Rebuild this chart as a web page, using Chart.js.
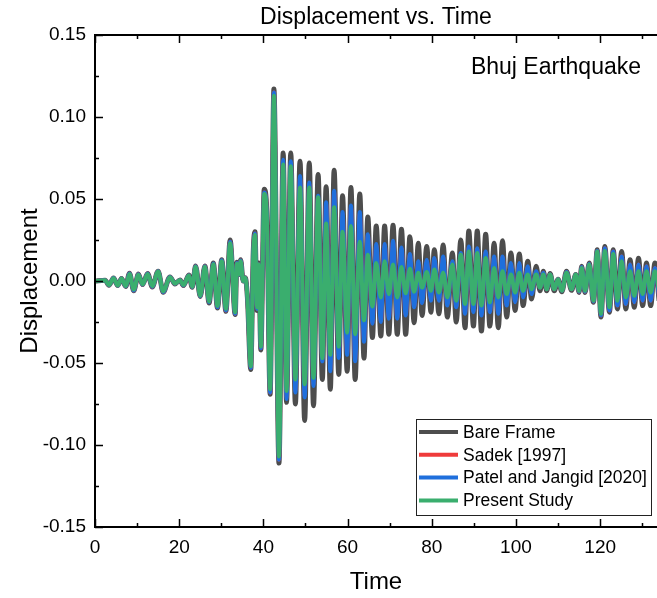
<!DOCTYPE html>
<html>
<head>
<meta charset="utf-8">
<script src="https://cdn.jsdelivr.net/npm/chart.js@4.4.0/dist/chart.umd.min.js"></script>
<style>
  html, body { margin: 0; padding: 0; background: #fff; }
  #wrap { width: 657px; height: 598px; }
</style>
</head>
<body>
<div id="wrap"><canvas id="dispChart" width="657" height="598"></canvas></div>
<script>
// Время экстремумов (с)
const time = [
  0, 2.4, 3.3, 4.4, 5.4, 6.3, 7.3, 8.2, 9.2, 10.3,
  11.3, 12.5, 13.6, 15.0, 16.2, 17.8, 19.0, 20.2, 21.0, 22.3,
  23.1, 23.9, 25.0, 26.1, 27.1, 28.1, 29.1, 30.1, 31.1, 32.1,
  33.3, 33.7, 34.2, 34.6, 35.2, 35.7, 36.2, 37.0, 37.6, 38.0,
  38.5, 38.9, 39.4, 40.2, 40.8, 41.6, 42.5, 43.7, 44.7, 45.5,
  46.5, 47.6, 48.7, 49.8, 50.9, 51.9, 53.0, 54.0, 54.9, 55.9,
  56.8, 57.9, 58.8, 59.9, 60.8, 61.8, 62.9, 63.9, 64.8, 65.9,
  66.8, 67.9, 68.8, 69.8, 70.8, 71.8, 72.8, 73.8, 74.8, 75.8,
  76.8, 77.7, 78.8, 79.8, 80.6, 81.7, 82.7, 83.7, 84.9, 85.8,
  86.9, 87.9, 88.8, 89.9, 90.8, 91.8, 92.8, 93.8, 94.8, 95.8,
  96.8, 97.8, 98.8, 99.8, 100.8, 101.7, 102.8, 103.7, 104.8, 105.7,
  106.5, 107.3, 108.1, 109.1, 110.0, 110.9, 112.0, 113.2, 114.2, 115.0,
  115.6, 116.4, 117.4, 118.4, 119.3, 120.2, 121.1, 122.2, 123.1, 124.1,
  125.1, 126.1, 127.1, 128.1, 129.1, 130.1, 131.0, 132.0, 133.0, 134.0
];

// Bare Frame
const bareFrame = [
  0, 0.0005, -0.0026, 0.0018, -0.0028, 0.0016, -0.0033, 0.0048, -0.006, 0.0042,
  -0.0022, 0.0046, -0.0036, 0.006, -0.0068, 0.0025, -0.0018, 0.0006, -0.0028, 0.0036,
  -0.0038, 0.0092, -0.0095, 0.0092, -0.0134, 0.011, -0.0165, 0.013, -0.0185, 0.025,
  -0.0205, 0.0115, 0.004, 0.013, 0.0, 0.002, -0.01, -0.054, 0.018, 0.030,
  -0.018, 0.011, -0.042, 0.056, 0.043, -0.069, 0.117, -0.111, 0.078, -0.074,
  0.078, -0.075, 0.073, -0.085, 0.072, -0.076, 0.065, -0.060, 0.0575, -0.066,
  0.0675, -0.057, 0.052, -0.055, 0.057, -0.060, 0.053, -0.047, 0.039, -0.0345,
  0.0335, -0.0335, 0.0335, -0.0325, 0.034, -0.0325, 0.0315, -0.0325, 0.027, -0.0255,
  0.023, -0.021, 0.021, -0.019, 0.019, -0.020, 0.022, -0.022, 0.017, -0.025,
  0.025, -0.0285, 0.0305, -0.0275, 0.0305, -0.0305, 0.0285, -0.0275, 0.023, -0.0285,
  0.0245, -0.022, 0.017, -0.018, 0.0165, -0.015, 0.012, -0.011, 0.009, -0.006,
  0.006, -0.006, 0.0045, -0.006, 0.001, -0.0065, 0.006, -0.0057, 0.004, -0.007,
  0.009, -0.007, 0.011, -0.013, 0.019, -0.022, 0.021, -0.019, 0.019, -0.017,
  0.018, -0.017, 0.013, -0.016, 0.0138, -0.015, 0.011, -0.015, 0.011, -0.012
];

// Sadek [1997]
const sadek = [
  0, 0.0005, -0.0026, 0.0018, -0.0028, 0.0016, -0.0032, 0.0046, -0.0058, 0.0041,
  -0.0021, 0.0045, -0.0035, 0.006, -0.0067, 0.0024, -0.0017, 0.0005, -0.0027, 0.0035,
  -0.0037, 0.009, -0.0093, 0.009, -0.013, 0.0105, -0.016, 0.0125, -0.018, 0.024,
  -0.020, 0.011, 0.004, 0.0125, 0.0, 0.002, -0.010, -0.053, 0.017, 0.029,
  -0.017, 0.010, -0.041, 0.054, 0.041, -0.068, 0.115, -0.109, 0.073, -0.071,
  0.072, -0.067, 0.063, -0.070, 0.059, -0.063, 0.051, -0.048, 0.047, -0.054,
  0.054, -0.046, 0.041, -0.044, 0.045, -0.048, 0.041, -0.036, 0.028, -0.0255,
  0.022, -0.0245, 0.022, -0.0225, 0.024, -0.0225, 0.020, -0.0205, 0.016, -0.0155,
  0.0115, -0.013, 0.0125, -0.0115, 0.0135, -0.0115, 0.0145, -0.0145, 0.0115, -0.0155,
  0.0165, -0.0195, 0.0205, -0.0185, 0.0195, -0.0205, 0.0175, -0.0185, 0.0145, -0.0195,
  0.0145, -0.0145, 0.0105, -0.0125, 0.0105, -0.0095, 0.0085, -0.0075, 0.0055, -0.004,
  0.005, -0.005, 0.004, -0.005, 0.001, -0.006, 0.0055, -0.005, 0.004, -0.0065,
  0.0085, -0.0065, 0.0105, -0.0125, 0.0185, -0.021, 0.020, -0.018, 0.018, -0.015,
  0.015, -0.014, 0.010, -0.013, 0.010, -0.012, 0.009, -0.012, 0.008, -0.010
];

// Patel and Jangid [2020]
const patelJangid = [
  0, 0.0005, -0.0026, 0.0018, -0.0028, 0.0016, -0.0032, 0.0046, -0.0058, 0.0041,
  -0.0021, 0.0045, -0.0035, 0.006, -0.0067, 0.0024, -0.0017, 0.0005, -0.0027, 0.0035,
  -0.0037, 0.009, -0.0093, 0.009, -0.013, 0.0106, -0.016, 0.0126, -0.018, 0.024,
  -0.020, 0.011, 0.004, 0.0125, 0.0, 0.002, -0.010, -0.053, 0.017, 0.029,
  -0.017, 0.010, -0.041, 0.054, 0.041, -0.068, 0.115, -0.109, 0.074, -0.072,
  0.073, -0.068, 0.064, -0.071, 0.060, -0.064, 0.052, -0.049, 0.048, -0.055,
  0.055, -0.047, 0.042, -0.045, 0.046, -0.049, 0.042, -0.037, 0.0285, -0.026,
  0.0225, -0.025, 0.0225, -0.023, 0.0245, -0.023, 0.0205, -0.021, 0.0165, -0.016,
  0.012, -0.0135, 0.013, -0.012, 0.014, -0.012, 0.015, -0.015, 0.012, -0.016,
  0.017, -0.020, 0.021, -0.019, 0.020, -0.021, 0.018, -0.019, 0.015, -0.020,
  0.015, -0.015, 0.011, -0.013, 0.011, -0.010, 0.009, -0.008, 0.006, -0.004,
  0.005, -0.005, 0.004, -0.005, 0.001, -0.006, 0.0055, -0.005, 0.004, -0.0065,
  0.0085, -0.0065, 0.0105, -0.0125, 0.0185, -0.021, 0.020, -0.018, 0.018, -0.015,
  0.015, -0.014, 0.010, -0.013, 0.010, -0.012, 0.009, -0.012, 0.008, -0.010
];

// Present Study
const presentStudy = [
  0, 0.0005, -0.0025, 0.0017, -0.0027, 0.0015, -0.003, 0.0042, -0.0052, 0.0038,
  -0.002, 0.0043, -0.0031, 0.0058, -0.0063, 0.0023, -0.0016, 0.0005, -0.0025, 0.0034,
  -0.0035, 0.0087, -0.009, 0.0087, -0.0125, 0.0102, -0.0152, 0.012, -0.017, 0.023,
  -0.019, 0.0105, 0.004, 0.012, 0.0, 0.002, -0.010, -0.052, 0.016, 0.028,
  -0.016, 0.010, -0.040, 0.053, 0.040, -0.066, 0.113, -0.107, 0.071, -0.067,
  0.070, -0.060, 0.057, -0.063, 0.057, -0.059, 0.051, -0.047, 0.035, -0.045,
  0.045, -0.040, 0.030, -0.0315, 0.0335, -0.0325, 0.024, -0.024, 0.016, -0.0155,
  0.011, -0.010, 0.012, -0.008, 0.010, -0.010, 0.0085, -0.0075, 0.0075, -0.0065,
  0.005, -0.004, 0.0055, -0.006, 0.007, -0.007, 0.005, -0.010, 0.010, -0.012,
  0.016, -0.014, 0.018, -0.014, 0.017, -0.015, 0.014, -0.013, 0.008, -0.010,
  0.006, -0.008, 0.004, -0.007, 0.005, -0.006, 0.004, -0.005, 0.004, -0.004,
  0.004, -0.005, 0.004, -0.005, 0.001, -0.006, 0.005, -0.005, 0.004, -0.006,
  0.008, -0.006, 0.010, -0.012, 0.018, -0.020, 0.0183, -0.016, 0.0165, -0.012,
  0.012, -0.010, 0.006, -0.009, 0.006, -0.008, 0.006, -0.007, 0.006, -0.006
];

const seriesNames = ['Bare Frame', 'Sadek [1997]', 'Patel and Jangid [2020]', 'Present Study'];
const seriesColors = ['#4d4d4d', '#ef3b3b', '#1f6fdc', '#3aae6e'];
const seriesWidths = [5, 4, 4, 4];
const xTicks = [0, 20, 40, 60, 80, 100, 120];
const yTicks = [-0.15, -0.10, -0.05, 0.00, 0.05, 0.10, 0.15];

const FONT = "'Liberation Sans', Arial, sans-serif";
const allSeries = [bareFrame, sadek, patelJangid, presentStudy];

// Рамка, внутренние засечки, заголовок, подпись и легенда
const decorPlugin = {
  id: 'decor',
  afterDraw(chart) {
    const ctx = chart.ctx;
    const area = chart.chartArea;
    const xs = chart.scales.x, ys = chart.scales.y;
    ctx.save();
    ctx.strokeStyle = '#000';
    ctx.lineWidth = 2;
    ctx.beginPath();
    ctx.moveTo(area.left, area.top); ctx.lineTo(area.right + 2, area.top);
    ctx.moveTo(area.left, area.top - 1); ctx.lineTo(area.left, area.bottom + 1);
    ctx.moveTo(area.left - 1, area.bottom); ctx.lineTo(area.right + 2, area.bottom);
    ctx.stroke();

    ctx.lineWidth = 1.5;
    ctx.beginPath();
    for (let v = 0; v <= xs.max; v += 10) {
      const px = Math.round(xs.getPixelForValue(v)) + 0.5;
      const len = v % 20 === 0 ? 8 : 4;
      ctx.moveTo(px, area.bottom); ctx.lineTo(px, area.bottom - len);
      ctx.moveTo(px, area.top); ctx.lineTo(px, area.top + len);
    }
    for (let i = -6; i <= 6; i++) {
      const v = i * 0.025;
      const py = Math.round(ys.getPixelForValue(v)) + 0.5;
      const len = i % 2 === 0 ? 8 : 4;
      ctx.moveTo(area.left, py); ctx.lineTo(area.left + len, py);
    }
    ctx.stroke();

    ctx.fillStyle = '#000';
    ctx.textBaseline = 'middle';
    ctx.font = '23px ' + FONT;
    ctx.textAlign = 'center';
    ctx.fillText('Displacement vs. Time', (area.left + area.right) / 2, 18);
    ctx.textAlign = 'right';
    ctx.fillText('Bhuj Earthquake', 641, 68);

    // Легенда
    const bx = 416, by = 419, bw = 235, bh = 96;
    ctx.fillStyle = '#fff';
    ctx.fillRect(bx, by, bw, bh);
    ctx.strokeStyle = '#222';
    ctx.lineWidth = 1;
    ctx.strokeRect(bx + 0.5, by + 0.5, bw, bh);
    ctx.font = '17.5px ' + FONT;
    ctx.textAlign = 'left';
    seriesNames.forEach((name, i) => {
      const y = by + 13 + i * 22.8;
      ctx.strokeStyle = seriesColors[i];
      ctx.lineWidth = 4;
      ctx.beginPath();
      ctx.moveTo(419, y); ctx.lineTo(458, y);
      ctx.stroke();
      ctx.fillStyle = '#000';
      ctx.fillText(name, 463, y + 1);
    });
    ctx.restore();
  }
};

const datasets = allSeries.map((vals, i) => ({
  label: seriesNames[i],
  data: time.map((t, k) => ({ x: t, y: vals[k] })),
  borderColor: seriesColors[i],
  backgroundColor: seriesColors[i],
  borderWidth: seriesWidths[i],
  pointRadius: 0,
  cubicInterpolationMode: 'monotone',
  fill: false,
  order: 4 - i
}));

new Chart(document.getElementById('dispChart'), {
  type: 'line',
  data: { datasets: datasets },
  options: {
    responsive: false,
    animation: false,
    devicePixelRatio: 1,
    layout: { padding: { top: 35, right: 0, bottom: 0, left: 0 } },
    plugins: {
      legend: { display: false },
      tooltip: { enabled: false }
    },
    scales: {
      x: {
        type: 'linear',
        min: 0,
        max: 133.5,
        grid: { display: false, drawTicks: false },
        border: { display: false },
        afterBuildTicks: s => { s.ticks = xTicks.map(v => ({ value: v })); },
        afterFit: s => { s.height = 71; },
        ticks: {
          autoSkip: false, maxRotation: 0, padding: 9, color: '#000',
          font: { family: FONT, size: 19 },
          callback: v => String(v)
        },
        title: {
          display: true, text: 'Time', color: '#000',
          font: { family: FONT, size: 24 },
          padding: { top: 0, bottom: 1 }
        }
      },
      y: {
        min: -0.15,
        max: 0.15,
        grid: { display: false, drawTicks: false },
        border: { display: false },
        afterBuildTicks: s => { s.ticks = yTicks.map(v => ({ value: v })); },
        afterFit: s => { s.width = 95; },
        ticks: {
          autoSkip: false, padding: 9, color: '#000',
          font: { family: FONT, size: 19 },
          callback: v => v.toFixed(2)
        },
        title: {
          display: true, text: 'Displacement', color: '#000',
          font: { family: FONT, size: 24 },
          padding: { top: 16, bottom: 0 }
        }
      }
    }
  },
  plugins: [decorPlugin]
});
</script>
</body>
</html>
